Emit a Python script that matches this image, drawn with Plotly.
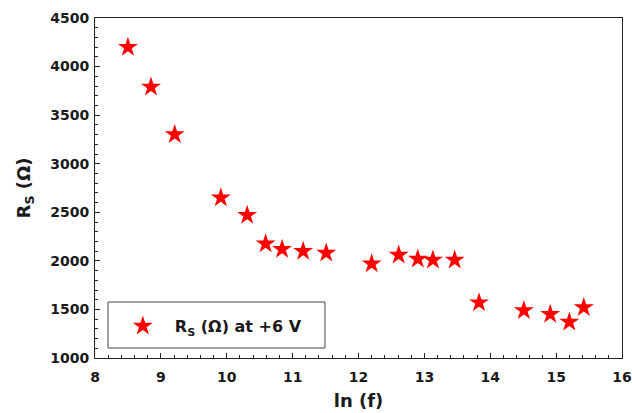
import plotly.graph_objects as go

ln_f = [8.50, 8.85, 9.21, 9.91, 10.31, 10.59, 10.84, 11.16, 11.51,
        12.20, 12.61, 12.90, 13.13, 13.46, 13.83, 14.51, 14.91, 15.20, 15.42]
rs = [4200, 3790, 3300, 2650, 2470, 2175, 2120, 2100, 2080,
      1970, 2060, 2020, 2010, 2010, 1570, 1490, 1450, 1370, 1520]
series_name = "R<sub>S</sub> (Ω) at +6 V"

FONT = "DejaVu Sans, Liberation Sans, Arial, sans-serif"
TXT = "#1a1a1a"

fig = go.Figure()
fig.add_trace(go.Scatter(
    x=ln_f, y=rs, mode="markers", name=series_name,
    marker=dict(symbol="star", size=15, color="#ff0000", line=dict(width=0)),
))

# legend frame
fig.add_shape(type="rect", xref="paper", yref="paper",
              x0=0.0247, x1=0.4364, y0=0.0294, y1=0.1647,
              line=dict(color="#444", width=1), fillcolor="white", layer="below")

fig.update_layout(
    width=632, height=413,
    margin=dict(l=95, r=10, t=18, b=55),
    paper_bgcolor="white", plot_bgcolor="white",
    font=dict(family=FONT, color=TXT),
    showlegend=True,
    legend=dict(
        x=0.03, y=0.094, xanchor="left", yanchor="middle",
        bgcolor="rgba(0,0,0,0)", borderwidth=0,
        font=dict(family=FONT, size=16, weight="bold", color=TXT),
        itemwidth=54,
    ),
)

fig.update_xaxes(
    range=[8, 16], dtick=1, tick0=8, automargin=False,
    showline=True, linecolor="#222", linewidth=1, mirror=True,
    ticks="inside", ticklen=5, tickcolor="#222",
    minor=dict(ticks="inside", ticklen=3, dtick=0.2, tickcolor="#222"),
    showgrid=False, zeroline=False, ticklabelstandoff=6,
    tickfont=dict(family=FONT, size=14, weight="bold", color=TXT),
    title=dict(text="ln (f)", font=dict(family=FONT, size=18, weight="bold", color=TXT), standoff=10),
)
fig.update_yaxes(
    range=[1000, 4500], dtick=500, tick0=1000, automargin=False,
    showline=True, linecolor="#222", linewidth=1, mirror=True,
    ticks="inside", ticklen=5, tickcolor="#222",
    minor=dict(ticks="inside", ticklen=3, dtick=100, tickcolor="#222"),
    showgrid=False, zeroline=False, ticklabelstandoff=2,
    tickfont=dict(family=FONT, size=14, weight="bold", color=TXT),
    title=dict(text="R<sub>S</sub> (Ω)", font=dict(family=FONT, size=18, weight="bold", color=TXT), standoff=14),
)

fig.write_html(
    "out.html",
    config={"displayModeBar": False},
    post_script=(
        "document.body.style.margin='0';"
        "document.documentElement.style.overflow='hidden';"
        "document.body.style.overflow='hidden';"
    ),
)
